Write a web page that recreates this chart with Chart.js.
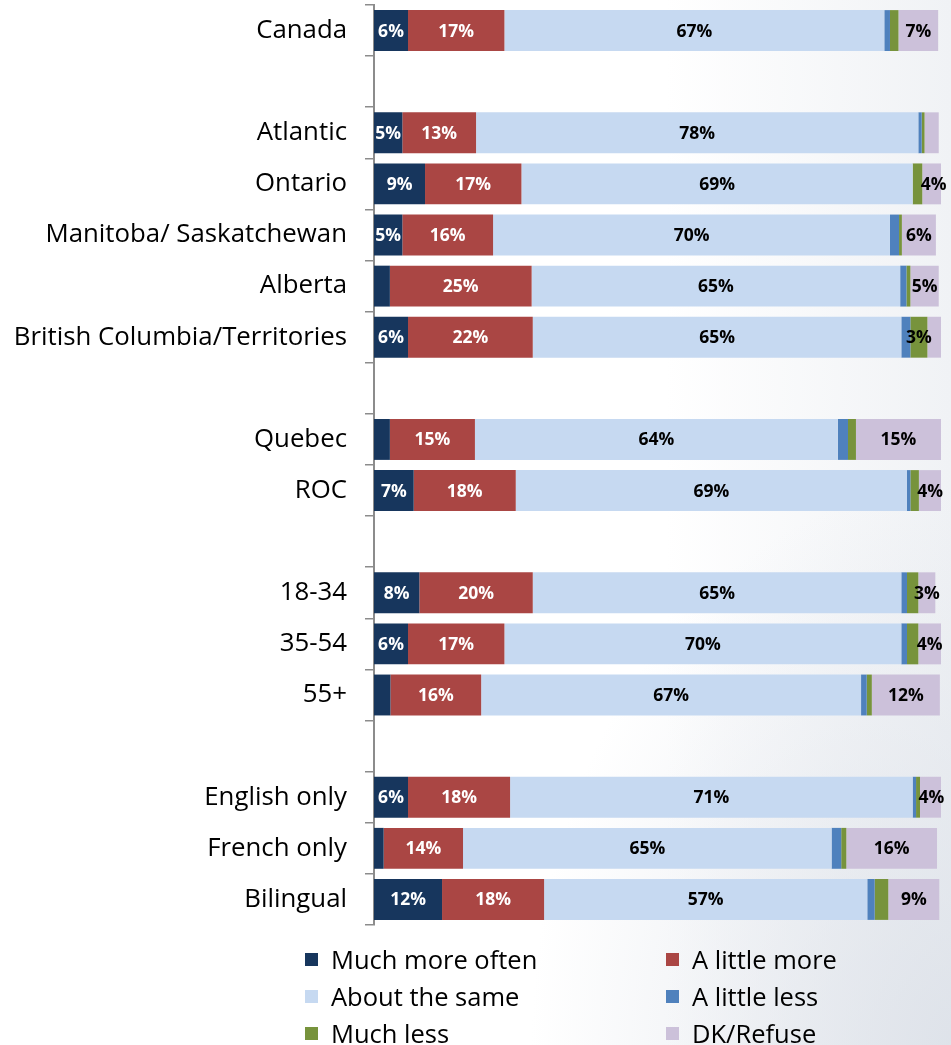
<!DOCTYPE html>
<html>
<head>
<meta charset="utf-8">
<script src="https://cdn.jsdelivr.net/npm/chart.js@4/dist/chart.umd.min.js"></script>
<style>
  html, body { margin: 0; padding: 0; }
  body {
    width: 951px; height: 1045px; overflow: hidden; position: relative;
    background:
      radial-gradient(ellipse 420px 560px at 100% 100%, rgba(218,223,231,0.8), rgba(255,255,255,0) 100%),
      linear-gradient(to right, #ffffff 70%, #f0f2f5 100%);
    font-family: "Open Sans", "DejaVu Sans", sans-serif;
  }
  #wrap { position: absolute; left: 0; top: 0; width: 951px; height: 930px; }
  #legend { position: absolute; left: 0; top: 0; width: 951px; height: 1045px; pointer-events: none; }
  .item { position: absolute; display: flex; align-items: center; font-size: 25.5px; color: #000; white-space: nowrap; }
  .sw { width: 13px; height: 13px; margin-right: 13px; }
</style>
</head>
<body>
<div id="wrap"><canvas id="c" width="951" height="930"></canvas></div>
<div id="legend"></div>
<script>
// Row labels; empty strings are spacer rows between groups
const categories = [
  'Canada', '',
  'Atlantic', 'Ontario', 'Manitoba/ Saskatchewan', 'Alberta', 'British Columbia/Territories', '',
  'Quebec', 'ROC', '',
  '18-34', '35-54', '55+', '',
  'English only', 'French only', 'Bilingual'
];

const seriesNames = ['Much more often', 'A little more', 'About the same', 'A little less', 'Much less', 'DK/Refuse'];
const seriesColors = ['#17365D', '#AA4644', '#C6D9F1', '#4F81BD', '#77933C', '#CCC1DA'];

// Percent of respondents per row
const muchMoreOften = [6, null, 5, 9, 5, 2.8, 6, null, 2.8, 7, null, 8, 6, 2.9, null, 6, 1.7, 12];
const aLittleMore   = [17, null, 13, 17, 16, 25, 22, null, 15, 18, null, 20, 17, 16, null, 18, 14, 18];
const aboutTheSame  = [67, null, 78, 69, 70, 65, 65, null, 64, 69, null, 65, 70, 67, null, 71, 65, 57];
const aLittleLess   = [1, null, 0.6, 0, 1.6, 1.1, 1.6, null, 1.8, 0.6, null, 1, 1, 1, null, 0.6, 1.7, 1.3];
const muchLess      = [1.5, null, 0.5, 1.7, 0.5, 0.7, 3, null, 1.4, 1.5, null, 2, 2, 0.9, null, 0.7, 0.9, 2.4];
const dkRefuse      = [7, null, 2.5, 4, 6, 5, 2.8, null, 15, 4, null, 3, 4, 12, null, 4, 16, 9];

const seriesValues = [muchMoreOften, aLittleMore, aboutTheSame, aLittleLess, muchLess, dkRefuse];
const labelColors = ['#ffffff', '#ffffff', '#000000', '#000000', '#000000', '#000000'];
const labelThreshold = 3;

// Percent labels centred on each segment
const segmentLabels = {
  id: 'segmentLabels',
  afterDatasetsDraw(chart) {
    const ctx = chart.ctx;
    ctx.save();
    ctx.font = 'bold 17.5px "Open Sans", sans-serif';
    ctx.textAlign = 'center';
    ctx.textBaseline = 'middle';
    chart.data.datasets.forEach((ds, i) => {
      const meta = chart.getDatasetMeta(i);
      meta.data.forEach((bar, j) => {
        const v = ds.data[j];
        if (v == null || v < labelThreshold) return;
        ctx.fillStyle = labelColors[i];
        ctx.fillText(Math.round(v) + '%', (bar.x + bar.base) / 2, bar.y + 1);
      });
    });
    ctx.restore();
  }
};

new Chart(document.getElementById('c'), {
  type: 'bar',
  data: {
    labels: categories,
    datasets: seriesNames.map((name, i) => ({
      label: name,
      data: seriesValues[i],
      backgroundColor: seriesColors[i],
      borderWidth: 0,
      categoryPercentage: 1,
      barPercentage: 0.8
    }))
  },
  options: {
    indexAxis: 'y',
    responsive: false,
    animation: false,
    layout: { padding: { top: 5, right: 10, bottom: 5, left: 0 } },
    plugins: { legend: { display: false }, tooltip: { enabled: false } },
    scales: {
      x: { stacked: true, min: 0, max: 100, display: false },
      y: {
        stacked: true,
        afterFit(scale) {
          scale.width = 374;
          scale.paddingTop = 0;
          scale.paddingBottom = 0;
        },
        grid: {
          display: true, offset: true, drawOnChartArea: false, drawTicks: true,
          tickLength: 9, color: '#8c8c8c', lineWidth: 1.5
        },
        border: { display: true, color: '#8c8c8c', width: 2 },
        ticks: {
          color: '#000', padding: 18, autoSkip: false,
          font: { family: '"Open Sans", sans-serif', size: 25.8 }
        }
      }
    }
  },
  plugins: [segmentLabels]
});

// Two-column legend below the plot
const legend = document.getElementById('legend');
const colX = [305, 666];
const rowY = [959, 996, 1033];
seriesNames.forEach((name, i) => {
  const el = document.createElement('div');
  el.className = 'item';
  el.style.left = colX[i % 2] + 'px';
  el.style.top = (rowY[Math.floor(i / 2)] - 17) + 'px';
  el.style.height = '34px';
  const sw = document.createElement('span');
  sw.className = 'sw';
  sw.style.background = seriesColors[i];
  const tx = document.createElement('span');
  tx.textContent = name;
  el.appendChild(sw);
  el.appendChild(tx);
  legend.appendChild(el);
});
</script>
</body>
</html>
